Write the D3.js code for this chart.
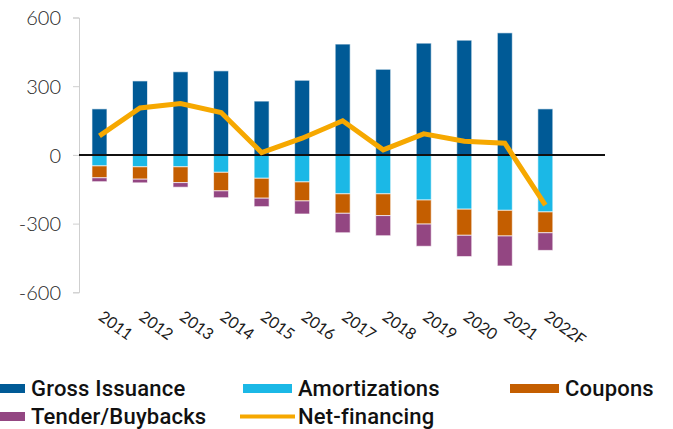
<!DOCTYPE html>
<html>
<head>
<meta charset="utf-8">
<script src="https://cdn.jsdelivr.net/npm/d3@7/dist/d3.min.js"></script>
<style>
  html, body { margin: 0; padding: 0; background: #fff; }
  svg { display: block; }
  .tick-label { font-family: Lato, "Liberation Sans", sans-serif; font-weight: 300; fill: #262626; }
  .year-label { font-family: Lato, "Liberation Sans", sans-serif; font-weight: 400; fill: #1a1a1a; }
  .legend-label { font-family: Roboto, "Liberation Sans", sans-serif; font-weight: 500; fill: #111; }
</style>
</head>
<body>
<svg id="chart" width="673" height="429"></svg>
<script>
// Sovereign financing flows, USD bn
const years = ["2011","2012","2013","2014","2015","2016","2017","2018","2019","2020","2021","2022F"];
const grossIssuance  = [201, 323, 363, 367, 235, 326, 484, 374, 488, 501, 533, 201];
const amortizations  = [-48, -52, -52, -76, -102, -118, -170, -170, -197, -237, -242, -249];
const coupons        = [-52, -54, -69, -81, -87, -83, -85, -95, -105, -114, -112, -91];
const tenderBuybacks = [-17, -16, -20, -30, -37, -57, -85, -88, -97, -93, -131, -77];
const netFinancing   = [83, 205, 224, 185, 10, 73, 149, 22, 92, 60, 51, -219];
const yTicks = [-600, -300, 0, 300, 600];

const colors = {
  gross: "#005a96",
  amort: "#1bb8e6",
  coupons: "#c45e00",
  tender: "#934682",
  net: "#f6a800"
};

const svg = d3.select("#chart");

const x = d3.scaleBand()
  .domain(years)
  .range([79.2, 565.6])
  .paddingInner(0.63)
  .paddingOuter(0.315);

const y = d3.scaleLinear()
  .domain([-600, 600])
  .range([292.3, 17.5]);

// y axis
const yAxis = svg.append("g")
  .attr("transform", "translate(79,0)")
  .call(d3.axisLeft(y).tickValues(yTicks).tickSize(6).tickPadding(12).tickFormat(d => String(d)));
yAxis.select(".domain").attr("stroke", "#cfcfcf");
yAxis.selectAll(".tick line").attr("stroke", "#cfcfcf");
yAxis.selectAll(".tick text")
  .attr("class", "tick-label")
  .style("font-size", "20px")
  .attr("dy", "0.36em");

// stacked bars: positive gross issuance, negative outflows stacked downward
const negSeries = [
  { key: "amort", values: amortizations },
  { key: "coupons", values: coupons },
  { key: "tender", values: tenderBuybacks }
];

const segments = [];
years.forEach((yr, i) => {
  segments.push({ year: yr, key: "gross", y0: 0, y1: grossIssuance[i] });
  let base = 0;
  negSeries.forEach(s => {
    const v = s.values[i];
    segments.push({ year: yr, key: s.key, y0: base, y1: base + v });
    base += v;
  });
});

svg.append("g")
  .selectAll("rect")
  .data(segments)
  .join("rect")
  .attr("x", d => x(d.year))
  .attr("width", x.bandwidth())
  .attr("y", d => y(Math.max(d.y0, d.y1)))
  .attr("height", d => Math.abs(y(d.y0) - y(d.y1)))
  .attr("fill", d => colors[d.key])
  .attr("stroke", "#fff")
  .attr("stroke-width", 1)
  .attr("stroke-opacity", 0.65);

// zero baseline
svg.append("line")
  .attr("x1", 79)
  .attr("x2", 605)
  .attr("y1", y(0))
  .attr("y2", y(0))
  .attr("stroke", "#111")
  .attr("stroke-width", 2);

// net financing line
const line = d3.line()
  .x((d, i) => x(years[i]) + x.bandwidth() / 2)
  .y(d => y(d));

svg.append("path")
  .datum(netFinancing)
  .attr("d", line)
  .attr("fill", "none")
  .attr("stroke", colors.net)
  .attr("stroke-width", 5)
  .attr("stroke-linejoin", "miter");

// rotated category labels
svg.append("g")
  .selectAll("text")
  .data(years)
  .join("text")
  .attr("class", "year-label")
  .style("font-size", "16px")
  .attr("transform", d => `translate(${x(d) + x.bandwidth() / 2 - 2},319) rotate(36)`)
  .attr("text-anchor", "start")
  .text(d => d);

// legend
const legendItems = [
  { label: "Gross Issuance", key: "gross", type: "rect", sx: -24, row: 0 },
  { label: "Amortizations", key: "amort", type: "rect", sx: 243, row: 0 },
  { label: "Coupons", key: "coupons", type: "rect", sx: 510, row: 0 },
  { label: "Tender/Buybacks", key: "tender", type: "rect", sx: -24, row: 1 },
  { label: "Net-financing", key: "net", type: "line", sx: 240, row: 1 }
];
const rowY = [388.5, 416.5];

const legend = svg.append("g");
legendItems.forEach(it => {
  const cy = rowY[it.row];
  if (it.type === "rect") {
    legend.append("rect")
      .attr("x", it.sx)
      .attr("y", cy - 4.5)
      .attr("width", 49)
      .attr("height", 9)
      .attr("fill", colors[it.key]);
  } else {
    legend.append("rect")
      .attr("x", it.sx)
      .attr("y", cy - 2)
      .attr("width", 55)
      .attr("height", 4)
      .attr("fill", colors[it.key]);
  }
  legend.append("text")
    .attr("class", "legend-label")
    .attr("x", it.type === "rect" ? it.sx + 55 : it.sx + 58)
    .attr("y", cy)
    .attr("dy", "0.36em")
    .style("font-size", "22px")
    .style("letter-spacing", "0.2px")
    .text(it.label);
});
</script>
</body>
</html>
